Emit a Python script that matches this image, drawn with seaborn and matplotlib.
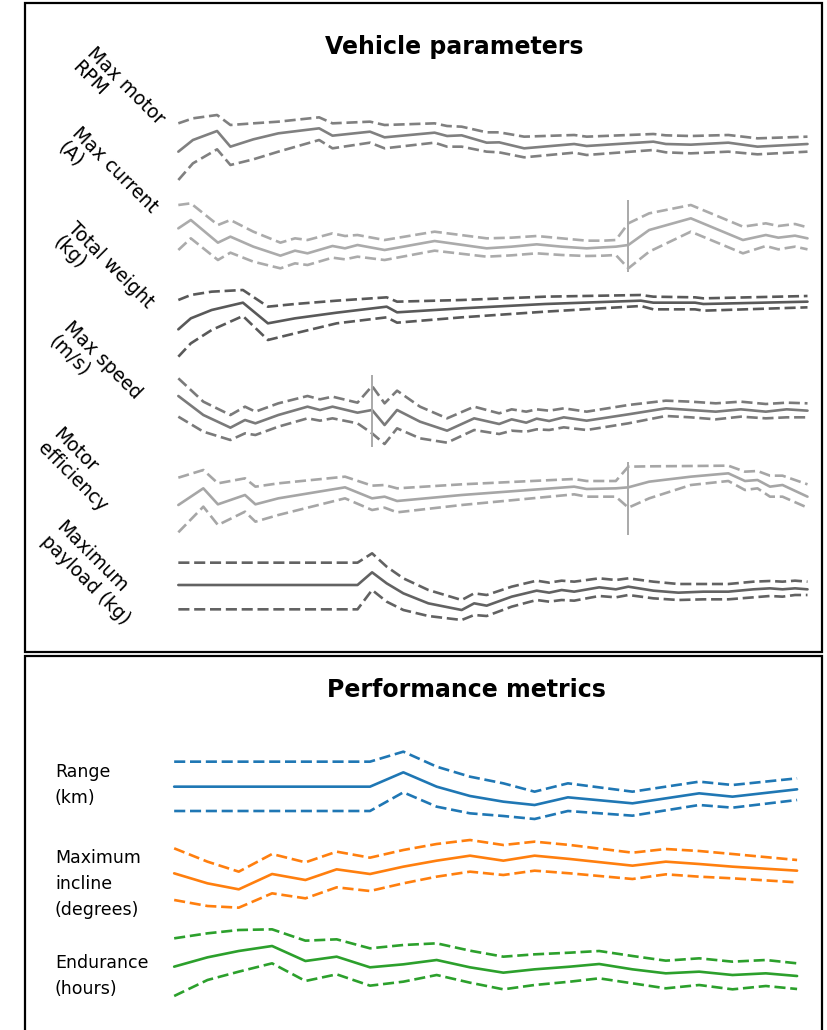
import matplotlib
matplotlib.use("Agg")
import matplotlib.pyplot as plt
import pandas as pd
import seaborn as sns
from matplotlib.patches import Rectangle

# ---------------- data (x = sweep step, y = plotted level; smaller = higher) -------------
rpm_x = [20, 55, 113, 145, 200, 260, 358, 390, 480, 515, 635, 665, 700, 760, 790, 850, 970, 1000, 1160, 1190, 1250, 1340, 1410, 1530]
rpm_mid = [155, 120, 93, 140, 118, 100, 85, 107, 95, 112, 98, 108, 106, 128, 127, 145, 132, 138, 125, 132, 134, 128, 140, 132]
rpm_hi = [70, 55, 45, 75, 70, 65, 52, 70, 65, 75, 70, 78, 80, 97, 97, 110, 105, 110, 102, 106, 108, 105, 115, 110]
rpm_lo = [240, 190, 148, 195, 178, 155, 120, 145, 128, 145, 128, 140, 140, 155, 157, 172, 158, 165, 150, 157, 160, 155, 163, 155]

cur_x = [20, 50, 115, 145, 200, 265, 300, 330, 390, 420, 450, 515, 635, 760, 820, 880, 940, 1000, 1040, 1070, 1100, 1150, 1250, 1375, 1430, 1460, 1500, 1530]
cur_mid = [115, 90, 158, 140, 170, 197, 182, 190, 168, 175, 165, 180, 153, 175, 170, 163, 170, 175, 172, 170, 165, 120, 85, 150, 135, 143, 137, 145]
cur_hi = [45, 40, 105, 90, 125, 158, 145, 150, 130, 138, 135, 150, 125, 145, 143, 138, 145, 152, 152, 150, 100, 70, 45, 110, 100, 108, 102, 112]
cur_lo = [180, 145, 210, 188, 215, 235, 220, 225, 203, 208, 200, 210, 182, 200, 196, 190, 195, 198, 197, 195, 235, 185, 125, 190, 168, 178, 170, 178]
cur_event = [1100, 30, 245]

weight_x = [20, 50, 100, 175, 235, 300, 400, 520, 545, 700, 900, 1130, 1160, 1260, 1280, 1530]
weight_mid = [148, 115, 90, 68, 130, 115, 98, 80, 97, 85, 72, 62, 68, 68, 72, 65]
weight_hi = [60, 45, 35, 30, 80, 72, 62, 52, 65, 60, 50, 45, 50, 52, 55, 48]
weight_lo = [230, 190, 150, 108, 180, 160, 130, 112, 128, 112, 95, 78, 88, 88, 92, 82]

speed_x = [20, 80, 145, 180, 205, 260, 330, 360, 390, 450, 485, 515, 545, 600, 665, 730, 790, 820, 855, 880, 910, 945, 1000, 1100, 1190, 1250, 1310, 1370, 1430, 1480, 1530]
speed_mid = [108, 165, 203, 180, 190, 165, 140, 150, 140, 158, 150, 195, 150, 185, 212, 175, 192, 178, 188, 176, 183, 172, 182, 163, 145, 150, 155, 148, 155, 148, 152]
speed_hi = [55, 125, 165, 140, 155, 130, 108, 118, 110, 128, 78, 130, 92, 140, 175, 140, 160, 148, 155, 148, 152, 145, 155, 135, 122, 125, 130, 125, 132, 128, 130]
speed_lo = [170, 215, 240, 220, 225, 200, 175, 182, 175, 190, 220, 252, 205, 235, 248, 210, 222, 212, 215, 208, 210, 202, 210, 190, 168, 172, 178, 170, 175, 172, 172]
speed_event = [485, 45, 260]

eff_x = [20, 80, 115, 180, 205, 260, 420, 485, 515, 545, 700, 970, 1000, 1070, 1100, 1150, 1250, 1340, 1380, 1410, 1440, 1470, 1530]
eff_mid = [150, 100, 148, 120, 148, 130, 97, 130, 125, 138, 120, 95, 102, 100, 97, 80, 65, 55, 78, 75, 95, 90, 125]
eff_hi = [68, 45, 85, 70, 95, 85, 65, 92, 90, 100, 88, 72, 78, 78, 35, 34, 33, 32, 50, 48, 62, 62, 88]
eff_lo = [232, 155, 210, 170, 200, 180, 130, 165, 158, 172, 150, 118, 125, 125, 158, 130, 90, 78, 105, 100, 125, 125, 158]
eff_event = [1100, 20, 240]

pay_x = [20, 450, 485, 520, 560, 620, 700, 730, 760, 820, 880, 910, 940, 970, 1030, 1070, 1100, 1160, 1220, 1280, 1340, 1400, 1440, 1470, 1500, 1530]
pay_mid = [135, 135, 97, 130, 160, 190, 210, 190, 197, 170, 152, 158, 150, 155, 142, 148, 140, 152, 158, 155, 155, 148, 145, 148, 145, 148]
pay_hi = [68, 68, 40, 80, 115, 150, 180, 160, 165, 140, 122, 128, 122, 125, 115, 120, 115, 125, 132, 132, 132, 125, 123, 125, 122, 125]
pay_lo = [208, 208, 150, 185, 210, 228, 240, 225, 228, 200, 180, 185, 180, 182, 168, 172, 165, 175, 180, 178, 178, 172, 168, 170, 165, 165]

range_x = [10, 480, 560, 640, 720, 800, 875, 955, 1110, 1270, 1350, 1505]
range_mid = [140, 140, 97, 140, 168, 185, 195, 172, 190, 160, 170, 148]
range_hi = [65, 65, 35, 80, 110, 130, 155, 130, 155, 125, 135, 115]
range_lo = [213, 213, 157, 200, 220, 228, 237, 213, 227, 195, 203, 180]

incline_x = [10, 90, 165, 245, 325, 400, 480, 560, 640, 720, 800, 875, 960, 1110, 1190, 1270, 1350, 1505]
incline_mid = [130, 160, 178, 132, 150, 118, 132, 110, 92, 77, 92, 77, 87, 107, 95, 102, 110, 122]
incline_hi = [55, 95, 125, 72, 97, 65, 83, 60, 42, 30, 45, 35, 45, 68, 57, 63, 72, 90]
incline_lo = [210, 228, 233, 190, 205, 172, 183, 160, 140, 125, 135, 122, 130, 147, 133, 140, 145, 157]

endurance_x = [10, 90, 165, 245, 325, 400, 480, 560, 640, 720, 800, 875, 960, 1030, 1110, 1190, 1270, 1350, 1430, 1505]
endurance_mid = [140, 112, 93, 78, 123, 110, 142, 133, 120, 142, 158, 148, 140, 132, 148, 160, 155, 165, 160, 168]
endurance_hi = [55, 40, 30, 28, 62, 58, 85, 75, 70, 92, 110, 103, 98, 93, 108, 122, 115, 125, 120, 130]
endurance_lo = [228, 180, 155, 130, 183, 163, 197, 185, 165, 188, 208, 195, 185, 175, 190, 205, 195, 208, 198, 207]

top_labels = ["Max motor\nRPM", "Max current\n(A)", "Total weight\n(kg)", "Max speed\n(m/s)",
              "Motor\nefficiency", "Maximum\npayload (kg)"]
bottom_labels = ["Range\n(km)", "Maximum\nincline\n(degrees)", "Endurance\n(hours)"]
titles = ["Vehicle parameters", "Performance metrics"]

# ---------------- drawing -----------------------------------------------------------
sns.set_theme(style="white")
plt.rcParams['font.family'] = ['DejaVu Sans']
plt.rcParams['text.color'] = 'black'

W, H = 828, 1030
fig = plt.figure(figsize=(W / 100, H / 100), dpi=100)
fig.patch.set_facecolor("white")

DASH = (0, (4.2, 1.8))
LW = 1.9


def add_row(y0, h, x, mid, hi, lo, color, event=None):
    ax = fig.add_axes([170 / W, 1 - (y0 + h) / H, 650 / W, h / H])
    df = pd.DataFrame({"x": x, "mid": mid, "hi": hi, "lo": lo})
    sns.lineplot(data=df, x="x", y="mid", ax=ax, color=color, linewidth=LW, clip_on=False)
    for col in ("hi", "lo"):
        sns.lineplot(data=df, x="x", y=col, ax=ax, color=color, linewidth=LW,
                     linestyle=DASH, clip_on=False)
    if event is not None:
        ax.vlines(event[0], event[1], event[2], color="#a9a9a9", linewidth=1.4, clip_on=False)
    ax.set_xlim(0, 1560)
    ax.set_ylim(3 * h, 0)
    ax.axis("off")
    ax.patch.set_alpha(0)
    return ax


# top panel rows
add_row(100, 100, rpm_x, rpm_mid, rpm_hi, rpm_lo, "#808080")
add_row(190, 100, cur_x, cur_mid, cur_hi, cur_lo, "#ababab", cur_event)
add_row(280, 80, weight_x, weight_mid, weight_hi, weight_lo, "#595959")
add_row(360, 100, speed_x, speed_mid, speed_hi, speed_lo, "#7a7a7a", speed_event)
add_row(455, 100, eff_x, eff_mid, eff_hi, eff_lo, "#a6a6a6", eff_event)
add_row(540, 90, pay_x, pay_mid, pay_hi, pay_lo, "#626262")

# bottom panel rows
pal = sns.color_palette("tab10")
add_row(740, 90, range_x, range_mid, range_hi, range_lo, pal[0])
add_row(830, 90, incline_x, incline_mid, incline_hi, incline_lo, pal[1])
add_row(920, 90, endurance_x, endurance_mid, endurance_hi, endurance_lo, pal[2])

# panel frames
fig.add_artist(Rectangle((25 / W, 1 - 652 / H), (822 - 25) / W, (652 - 3) / H,
                         transform=fig.transFigure, fill=False, edgecolor="black", linewidth=1.6))
fig.add_artist(Rectangle((25 / W, 1 - 1040 / H), (822 - 25) / W, (1040 - 656) / H,
                         transform=fig.transFigure, fill=False, edgecolor="black", linewidth=1.6,
                         clip_on=False))

# titles
fig.text(454 / W, 1 - 47 / H, titles[0], ha="center", va="center", fontsize=17, fontweight="bold")
fig.text(466 / W, 1 - 690 / H, titles[1], ha="center", va="center", fontsize=17, fontweight="bold")

# rotated labels of the top panel (block centres)
top_centers = [(118, 93), (108, 177), (103, 272), (95, 367), (80, 470), (93, 573)]
for (lx, ly), lab in zip(top_centers, top_labels):
    fig.text(lx / W, 1 - ly / H, lab, rotation=-45, rotation_mode="anchor",
             ha="center", va="center", fontsize=13.5, linespacing=1.1, multialignment="left")

# labels of the bottom panel
bottom_centers = [785, 884, 976]
for cy, lab in zip(bottom_centers, bottom_labels):
    fig.text(55 / W, 1 - cy / H, lab, ha="left", va="center", fontsize=12.5,
             linespacing=1.55, multialignment="left")

fig.savefig("out.png", dpi=100, facecolor="white")
